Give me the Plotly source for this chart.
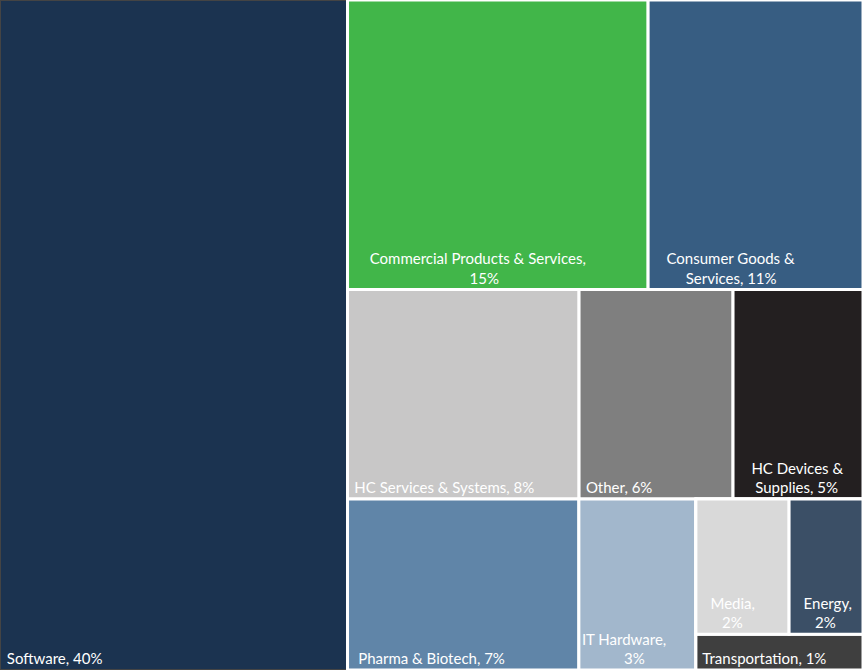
import plotly.graph_objects as go

# ---------------- data ----------------
categories = ["Software", "Commercial Products & Services", "Consumer Goods & Services",
              "HC Services & Systems", "Other", "HC Devices & Supplies",
              "Pharma & Biotech", "IT Hardware", "Media", "Energy", "Transportation"]
# shares (%) estimated from tile areas; labels show them rounded
shares = [40.27, 15.05, 10.76, 8.39, 5.58, 4.71, 6.84, 3.46, 2.18, 1.73, 1.03]
# label text lines (percentage appended to the last line or on its own line)
name_lines = [["Software,"],
              ["Commercial Products & Services,"],
              ["Consumer Goods &", "Services,"],
              ["HC Services & Systems,"],
              ["Other,"],
              ["HC Devices &", "Supplies,"],
              ["Pharma & Biotech,"],
              ["IT Hardware,"],
              ["Media,"],
              ["Energy,"],
              ["Transportation,"]]
pct_own_line = [False, True, False, False, False, False, False, True, True, True, False]

# ---------------- styling ----------------
colors = ["#1b3350", "#41b649", "#375d82", "#c8c7c7", "#7f7f7f", "#231f20",
          "#6085a8", "#a2b7cc", "#d9d9d9", "#3b4f66", "#3f3f3f"]
# indentation (in non-breaking spaces) for each label line, to mimic centred lines
line_indent = [[1], [5, 31], [4, 9], [1], [1], [4, 5], [2], [0, 11], [3, 6], [3, 6], [1]]

# layout grouping (invisible intermediate groups used to reproduce the tiling)
leaf_parent = ["", "top", "top", "mid", "mid", "mid", "bot", "bot", "me", "me", "small"]
groups = ["rest", "top", "mid", "bot", "small", "me"]
group_parent = ["", "rest", "rest", "rest", "bot", "small"]

n_first = 8  # leaves placed before group definitions (keeps child ordering)
ids = categories[:n_first] + groups + categories[n_first:]
parents = leaf_parent[:n_first] + group_parent + leaf_parent[n_first:]

vals = dict(zip(categories, shares))
child_map = {}
for i, p in zip(ids, parents):
    child_map.setdefault(p, []).append(i)

def total(node):
    if node in vals:
        return vals[node]
    return sum(total(c) for c in child_map.get(node, []))

values = [total(i) for i in ids]

NBSP = "\u00a0"

def make_label(lines, v, own_line, inds):
    pct = f"{round(v)}%"
    lines = list(lines)
    if own_line:
        lines.append(pct)
    else:
        lines[-1] = lines[-1] + " " + pct
    return "<br>".join(NBSP * ind + ln for ln, ind in zip(lines, inds))

leaf_text = {c: make_label(nl, v, ol, ind) for c, nl, v, ol, ind in
             zip(categories, name_lines, shares, pct_own_line, line_indent)}
leaf_color = dict(zip(categories, colors))
texts = [leaf_text.get(i, "") for i in ids]
node_colors = [leaf_color.get(i, "#ffffff") for i in ids]

fig = go.Figure(go.Treemap(
    ids=ids,
    labels=ids,
    parents=parents,
    values=values,
    branchvalues="total",
    sort=False,
    text=texts,
    textinfo="text",
    textposition="bottom left",
    textfont=dict(family="Lato, Open Sans, sans-serif", size=15, color="white"),
    marker=dict(colors=node_colors, line=dict(color="white", width=3),
                pad=dict(t=0, l=0, r=0, b=0)),
    tiling=dict(packing="slice-dice", pad=0),
    pathbar=dict(visible=False),
    hoverinfo="skip",
))
fig.update_layout(width=863, height=670, margin=dict(l=0, r=0, t=0, b=0),
                  paper_bgcolor="white")
fig.write_html("out.html", config={"displayModeBar": False},
               post_script="document.body.style.margin='0';document.body.style.overflow='hidden';")
